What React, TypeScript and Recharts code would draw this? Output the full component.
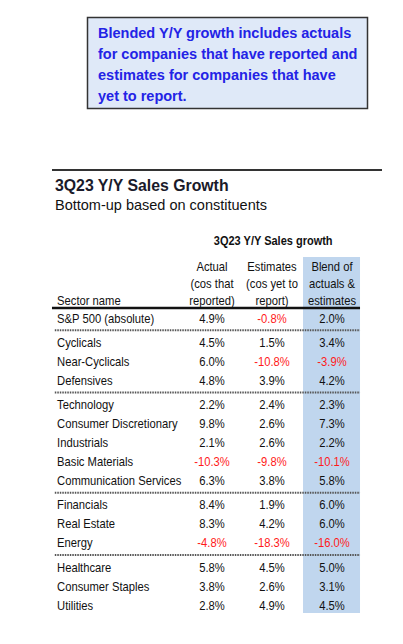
import { ScatterChart, Scatter, XAxis, YAxis, ReferenceArea, ReferenceLine } from "recharts";

const sectors = [
  "S&P 500 (absolute)", "Cyclicals", "Near-Cyclicals", "Defensives", "Technology",
  "Consumer Discretionary", "Industrials", "Basic Materials", "Communication Services",
  "Financials", "Real Estate", "Energy", "Healthcare", "Consumer Staples", "Utilities",
];
const actual = [4.9, 4.5, 6.0, 4.8, 2.2, 9.8, 2.1, -10.3, 6.3, 8.4, 8.3, -4.8, 5.8, 3.8, 2.8];
const estimates = [-0.8, 1.5, -10.8, 3.9, 2.4, 2.6, 2.6, -9.8, 3.8, 1.9, 4.2, -18.3, 4.5, 2.6, 4.9];
const blend = [2.0, 3.4, -3.9, 4.2, 2.3, 7.3, 2.2, -10.1, 5.8, 6.0, 6.0, -16.0, 5.0, 3.1, 4.5];
const groups = [0, 1, 1, 1, 2, 2, 2, 2, 2, 3, 3, 3, 4, 4, 4];
const columnHeaders = [
  ["Actual", "(cos that", "reported)"],
  ["Estimates", "(cos yet to", "report)"],
  ["Blend of", "actuals &", "estimates"],
];
const tableTitle = "3Q23 Y/Y Sales growth";
const boxLines = [
  "Blended Y/Y growth includes actuals",
  "for companies that have reported and",
  "estimates for companies that have",
  "yet to report.",
];

const FONT = "'Liberation Sans', Arial, sans-serif";
const GAP = 0.28;
const LABEL_COL = -1.583;
const HEADER_POS = [-2.71, -1.82, -0.92];
const RED = "#ff1a1a";

const pos = groups.map((g, i) => i + g * GAP);
const seriesValues = [actual, estimates, blend];

const labelData = sectors.map((s, i) => ({ col: LABEL_COL, pos: pos[i], text: s }));
const valueData = seriesValues.map((vals, c) =>
  vals.map((v, i) => ({ col: c + 1, pos: pos[i], value: v }))
);
const headerData = [
  ...columnHeaders.flatMap((lines, c) =>
    lines.map((t, j) => ({ col: c + 1, pos: HEADER_POS[j], text: t, anchor: "middle" }))
  ),
  { col: LABEL_COL, pos: HEADER_POS[2], text: "Sector name", anchor: "start" },
];
const titleData = [{ col: 2.02, pos: -4.08, text: tableTitle }];

// separator lines sit halfway between groups
const separators: number[] = [];
for (let i = 1; i < groups.length; i++) {
  if (groups[i] !== groups[i - 1]) separators.push((pos[i] + pos[i - 1]) / 2);
}

const fmt = (v: number) => `${v.toFixed(1)}%`;

const SqText = ({ x, y, anchor, fill = "#111", size = 13, sx = 0.865, weight = 400, children }: any) => (
  <text
    transform={`translate(${x},${y}) scale(${sx},1)`}
    textAnchor={anchor}
    fontFamily={FONT}
    fontSize={size}
    fontWeight={weight}
    fill={fill}
  >
    {children}
  </text>
);

const labelShape = (p: any) => (
  <SqText x={p.cx} y={p.cy + 4.5} anchor="start">{p.payload.text}</SqText>
);
const valueShape = (p: any) => (
  <SqText x={p.cx} y={p.cy + 4.5} anchor="middle" fill={p.payload.value < 0 ? RED : "#111"}>
    {fmt(p.payload.value)}
  </SqText>
);
const headerShape = (p: any) => (
  <SqText x={p.cx} y={p.cy + 4.5} anchor={p.payload.anchor}>{p.payload.text}</SqText>
);
const titleShape = (p: any) => (
  <SqText x={p.cx} y={p.cy + 4.5} anchor="middle" size={12.5} sx={0.88} weight={700}>
    {p.payload.text}
  </SqText>
);

export default function App() {
  return (
    <div style={{ position: "absolute", left: 0, top: 0, width: 403, height: 644, background: "#fff" }}>
      <ScatterChart
        width={403}
        height={644}
        margin={{ top: 223, right: 41, bottom: 22, left: 47 }}
        style={{ position: "absolute", left: 0, top: 0 }}
      >
        <XAxis type="number" dataKey="col" domain={[-1.75, 3.5]} hide />
        <YAxis type="number" dataKey="pos" domain={[-5, 16]} reversed hide />
        <ReferenceArea x1={2.517} x2={3.467} y1={-3.21} y2={15.53} fill="#c0d6ee" fillOpacity={1} stroke="none" />
        <ReferenceLine
          segment={[{ x: -1.667, y: -0.53 }, { x: 3.467, y: -0.53 }]}
          stroke="#111"
          strokeWidth={2.5}
        />
        {separators.map((s) => (
          <ReferenceLine
            key={s}
            segment={[{ x: -1.62, y: s }, { x: 3.467, y: s }]}
            stroke="#555"
            strokeWidth={2}
            strokeDasharray="1.5 1"
          />
        ))}
        <Scatter data={titleData} shape={titleShape} isAnimationActive={false} />
        <Scatter data={headerData} shape={headerShape} isAnimationActive={false} />
        <Scatter data={labelData} shape={labelShape} isAnimationActive={false} />
        {valueData.map((d, c) => (
          <Scatter key={c} data={d} shape={valueShape} isAnimationActive={false} />
        ))}
      </ScatterChart>

      <svg
        width={403}
        height={220}
        style={{ position: "absolute", left: 0, top: 0, pointerEvents: "none" }}
      >
        <rect x={87.5} y={17.5} width={280} height={91} fill="#dfe9f8" stroke="#333" strokeWidth={1.5} />
        {boxLines.map((t, i) => (
          <text
            key={i}
            x={98}
            y={38 + i * 21}
            fontFamily={FONT}
            fontSize={14.5}
            fontWeight={700}
            fill="#2323e6"
          >
            {t}
          </text>
        ))}
        <line x1={52} x2={382} y1={170} y2={170} stroke="#333" strokeWidth={2} />
        <text
          transform="translate(55,191) scale(0.96,1)"
          fontFamily={FONT}
          fontSize={16.5}
          fontWeight={700}
          fill="#1a1a2a"
        >
          3Q23 Y/Y Sales Growth
        </text>
        <text x={55} y={210} fontFamily={FONT} fontSize={14.5} fill="#111">
          Bottom-up based on constituents
        </text>
      </svg>
    </div>
  );
}
